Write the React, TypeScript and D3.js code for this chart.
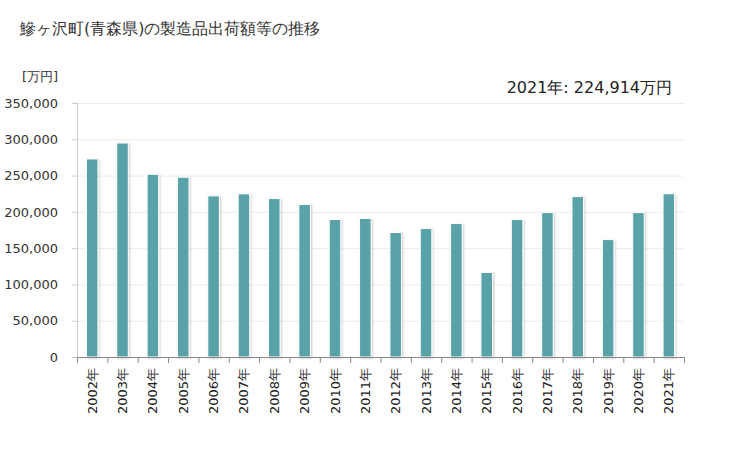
import React, { useEffect, useRef } from "react";
import * as d3 from "d3";

const years = [
  "2002年", "2003年", "2004年", "2005年", "2006年", "2007年", "2008年", "2009年", "2010年", "2011年",
  "2012年", "2013年", "2014年", "2015年", "2016年", "2017年", "2018年", "2019年", "2020年", "2021年",
];
const values = [
  272900, 294900, 251800, 247700, 222000, 224800, 218300, 210100, 189400, 190800,
  171500, 177000, 183900, 116400, 189400, 199000, 221000, 161800, 199000, 224914,
];
const yTicks = [0, 50000, 100000, 150000, 200000, 250000, 300000, 350000];

const W = 729;
const H = 450;
const margin = { top: 103, right: 45, bottom: 93, left: 77 };
const font = "Verdana, 'DejaVu Sans', sans-serif";

const App = () => {
  const ref = useRef<SVGSVGElement>(null);

  useEffect(() => {
    const svg = d3.select(ref.current);
    svg.selectAll("*").remove();
    const width = W - margin.left - margin.right;
    const height = H - margin.top - margin.bottom;

    const defs = svg.append("defs");
    const f = defs
      .append("filter")
      .attr("id", "shadow")
      .attr("x", "-50%")
      .attr("y", "-10%")
      .attr("width", "200%")
      .attr("height", "120%");
    f.append("feDropShadow")
      .attr("dx", 1)
      .attr("dy", 1)
      .attr("stdDeviation", 1.2)
      .attr("flood-color", "#000")
      .attr("flood-opacity", 0.22);

    svg
      .append("text")
      .attr("x", 20)
      .attr("y", 34)
      .attr("font-family", font)
      .attr("font-size", 16)
      .attr("fill", "#333")
      .text("鰺ヶ沢町(青森県)の製造品出荷額等の推移");

    svg
      .append("text")
      .attr("x", 22)
      .attr("y", 81)
      .attr("font-family", font)
      .attr("font-size", 13)
      .attr("fill", "#333")
      .text("[万円]");

    svg
      .append("text")
      .attr("x", 672)
      .attr("y", 93)
      .attr("text-anchor", "end")
      .attr("font-family", font)
      .attr("font-size", 16)
      .attr("fill", "#222")
      .text(`${years[years.length - 1]}: ${d3.format(",")(values[values.length - 1])}万円`);

    const g = svg.append("g").attr("transform", `translate(${margin.left},${margin.top})`);

    const x = d3.scaleBand().domain(years).range([0, width]).paddingInner(0.62).paddingOuter(0.31);
    const y = d3.scaleLinear().domain([0, 350000]).range([height, 0]);

    g.selectAll(".grid")
      .data(yTicks)
      .enter()
      .append("line")
      .attr("x1", 0)
      .attr("x2", width)
      .attr("y1", (d) => y(d) + 0.5)
      .attr("y2", (d) => y(d) + 0.5)
      .attr("stroke", "#ececec");

    const yAxis = g
      .append("g")
      .call(d3.axisLeft(y).tickValues(yTicks).tickFormat(d3.format(",") as any).tickSize(5).tickPadding(14));
    yAxis.select(".domain").attr("stroke", "#ccc").attr("d", `M0.5,0V${height}`);
    yAxis.selectAll(".tick line").attr("stroke", "#ccc");
    yAxis.selectAll("text").attr("font-family", font).attr("font-size", 13).attr("fill", "#333");

    g.selectAll(".bar")
      .data(values)
      .enter()
      .append("rect")
      .attr("x", (_, i) => x(years[i]) as number)
      .attr("y", (d) => y(d))
      .attr("width", x.bandwidth())
      .attr("height", (d) => height - y(d))
      .attr("fill", "#58a2a8")
      .attr("stroke", "#fff")
      .attr("stroke-width", 1)
      .attr("filter", "url(#shadow)");

    const xAxis = g
      .append("g")
      .attr("transform", `translate(0,${height})`)
      .call(d3.axisBottom(x).tickSize(0).tickPadding(0));
    xAxis.select(".domain").attr("stroke", "#888").attr("d", `M0,0.5H${width}`);
    xAxis.selectAll(".tick line").remove();
    const edge = (i: number) =>
      (i < years.length ? (x(years[i]) as number) - (x.step() - x.bandwidth()) / 2 : width) + 0.5;
    g.append("g")
      .attr("transform", `translate(0,${height})`)
      .selectAll("line")
      .data(years.concat([""]))
      .enter()
      .append("line")
      .attr("x1", (_, i) => edge(i))
      .attr("x2", (_, i) => edge(i))
      .attr("y1", 0)
      .attr("y2", 6)
      .attr("stroke", "#888");
    xAxis
      .selectAll("text")
      .attr("font-family", font)
      .attr("font-size", 13)
      .attr("fill", "#222")
      .attr("text-anchor", "end")
      .attr("dy", "0.35em")
      .attr("transform", "translate(0,11) rotate(-90)");
  });

  return (
    <svg ref={ref} width={W} height={H} style={{ display: "block", position: "absolute", left: 0, top: 0 }} />
  );
};

export default App;
